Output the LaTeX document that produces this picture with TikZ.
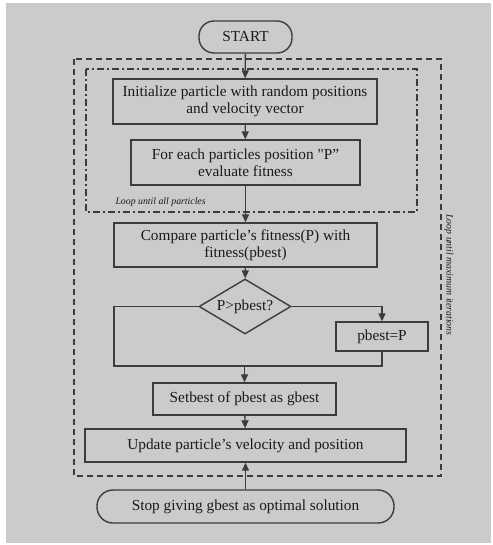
\documentclass[tikz,border=0pt]{standalone}
\usepackage{fontspec}
\setmainfont{Liberation Serif}
\usetikzlibrary{shapes.geometric,arrows.meta}
\definecolor{bg}{HTML}{CBCBCB}
\definecolor{ln}{HTML}{3C3C3C}
\definecolor{tx}{HTML}{1A1A1A}
\begin{document}
\begin{tikzpicture}[x=1pt,y=-1pt,
  every node/.style={text=tx,font=\fontsize{15.3}{17}\selectfont},
  box/.style={draw=ln,line width=1.4pt,fill=bg,align=center,inner sep=0pt},
  term/.style={box,rounded corners=15pt},
  conn/.style={draw=ln,line width=1.3pt},
  arr/.style={conn,-{Triangle[length=8pt,width=7pt]}},
  note/.style={font=\fontsize{9.8}{11}\selectfont\itshape}
]
\useasboundingbox (0,0) rectangle (492,545);
\fill[white] (0,0) rectangle (492,545);
\fill[bg] (6,3) rectangle (491,543);

% loop frames
\draw[ln,line width=1.2pt,dash pattern=on 6pt off 4pt] (74,59) rectangle (441,476);
\draw[ln,line width=1.1pt,dash pattern=on 7pt off 3pt on 2pt off 3pt] (86,69) rectangle (417,212);

% nodes
\node[term,minimum width=93pt,minimum height=32pt] (start) at (245.5,37) {START};
\node[box,minimum width=264pt,minimum height=45pt] (b1) at (245,101.5) {Initialize particle with random positions\\and velocity vector};
\node[box,minimum width=229pt,minimum height=45pt] (b2) at (245.5,162.5) {For each particles position \textquotedbl P”\\evaluate fitness};
\node[box,minimum width=263pt,minimum height=44pt] (b3) at (245.5,245) {Compare particle’s fitness(P) with\\fitness(pbest)};
\node[box,shape=diamond,minimum width=92pt,minimum height=55pt] (dia) at (245,306.5) {\makebox[0pt][c]{\raisebox{-4pt}[0pt][0pt]{P>pbest?}}};
\node[box,minimum width=92pt,minimum height=29pt] (pb) at (382,336.5) {pbest=P};
\node[box,minimum width=183pt,minimum height=32pt] (sb) at (244.5,399) {Setbest of pbest as gbest};
\node[box,minimum width=321pt,minimum height=33pt] (up) at (245.5,445.5) {Update particle's velocity and position};
\node[term,minimum width=297pt,minimum height=33pt,rounded corners=16pt] (stop) at (245.5,506.5) {Stop giving gbest as optimal solution};

\node[note,anchor=west] (l1) at (112,202) {Loop until all particles};
\node[note,rotate=-90] (l2) at (449,275) {Loop until maximum iterations};

% connectors
\draw[arr] (start) -- (b1);
\draw[arr] (b1) -- (b2);
\draw[arr] (b2) -- (b3);
\draw[arr] (b3) -- (dia);
\draw[arr] (dia.east) -| (pb.north);
\coordinate (L) at (114,366);
\coordinate (R) at (pb.south |- L);
\coordinate (M) at (sb.north |- L);
\draw[conn] (dia.west) -| (L) -- (R) -- (pb.south);
\draw[arr] (M) -- (sb.north);
\draw[arr] (sb) -- (up);
\draw[arr] (stop) -- (up);
\end{tikzpicture}
\end{document}
